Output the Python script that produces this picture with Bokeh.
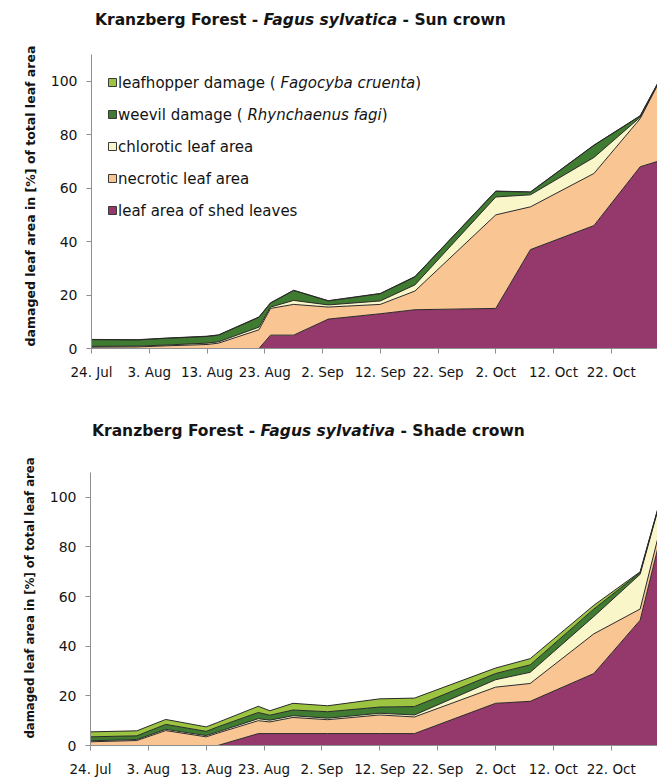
from bokeh.plotting import figure
from bokeh.layouts import column, row
from bokeh.models import ColumnDataSource, FixedTicker, Range1d, Label, BoxAnnotation, Div
from bokeh.embed import file_html
from bokeh.resources import INLINE

# Sampling dates, as days after 24 July
days = [0, 8, 13, 20, 22, 29, 31, 35, 41, 50, 56, 70, 76, 87, 95, 98]

tick_days = [0, 10, 20, 30, 40, 50, 60, 70, 80, 90]
tick_labels = ["24. Jul", "3. Aug", "13. Aug", "23. Aug", "2. Sep",
               "12. Sep", "22. Sep", "2. Oct", "12. Oct", "22. Oct"]
y_ticks = [0, 20, 40, 60, 80, 100]

categories = ["shed", "necrotic", "chlorotic", "weevil", "leafhopper"]
colors = ["#95386b", "#f9c593", "#f9f6c9", "#3f7b30", "#9cc440"]

# Sun crown: damaged leaf area per category, % of total leaf area
sun_shed = [0, 0, 0, 0, 0, 0, 5, 5, 11, 13, 14.5, 15, 37, 46, 68, 70]
sun_necrotic = [0.5, 0.6, 1, 1.5, 2, 7, 10, 11.5, 4.5, 3.5, 7, 35, 16, 19.5, 18, 28.5]
sun_chlorotic = [0.3, 0.3, 0.3, 0.5, 0.5, 1, 0.5, 1.5, 0.8, 1.3, 2.3, 6.7, 4.5, 6, 0.5, 0.3]
sun_weevil = [2.5, 2.3, 2.5, 2.5, 2.5, 3.7, 1.5, 3.7, 1.5, 2.7, 3, 2.1, 1, 4.5, 0.5, 0.2]
sun_leafhopper = [0.1, 0.1, 0.1, 0.1, 0.1, 0.1, 0.1, 0.1, 0.1, 0.1, 0.1, 0.1, 0.1, 0.1, 0.1, 0.1]

# Shade crown
shade_shed = [0, 0, 0, 0, 0, 4.8, 4.8, 4.8, 4.8, 4.8, 4.8, 17, 17.8, 29, 50.5, 79]
shade_necrotic = [1.5, 2, 6, 3.5, 5, 5.2, 4.7, 6.5, 5.6, 7.5, 6.7, 6.5, 7.2, 16, 4.5, 4]
shade_chlorotic = [0.4, 0.4, 0.5, 0.5, 0.5, 0.8, 0.7, 0.7, 0.6, 0.7, 0.8, 3, 4.5, 7, 14, 11.3]
shade_weevil = [1.6, 1.5, 2, 1.7, 2, 2.5, 2, 2.3, 2.6, 2.5, 3.4, 2.5, 3, 3, 0.7, 0.4]
shade_leafhopper = [2, 2, 2, 1.8, 1.8, 2.5, 1.8, 2.7, 2.4, 3.3, 3.4, 2.2, 2.5, 1.5, 0.3, 0.3]

legend_rows = [
    ("leafhopper damage ( ", "Fagocyba cruenta", ")"),
    ("weevil damage ( ", "Rhynchaenus fagi", ")"),
    ("chlorotic leaf area", "", ""),
    ("necrotic leaf area", "", ""),
    ("leaf area of shed leaves", "", ""),
]
legend_colors = ["#9cc440", "#3f7b30", "#f9f6c9", "#f9c593", "#95386b"]

FONT = "DejaVu Sans"
TEXT = "#141414"
AXIS = "#8f8f8f"
YLABEL = "damaged leaf area in [%] of total leaf area"


def title_div(species, crown, pad_left, pad_top, height):
    html = ('<div style="margin:0;padding-left:%dpx;padding-top:%.1fpx;'
            'font-family:\'DejaVu Sans\';font-size:15.5px;font-weight:bold;'
            'line-height:19px;white-space:nowrap;color:%s">'
            'Kranzberg Forest - <i>%s</i> - %s</div>'
            % (pad_left, pad_top, TEXT, species, crown))
    return Div(text=html, width=657, height=height, margin=0)


def ylabel_div(width, height, cx, cy, size):
    html = ('<div style="position:relative;width:%dpx;height:%dpx;margin:0">'
            '<div style="position:absolute;left:%dpx;top:%dpx;'
            'transform:translate(-50%%,-50%%) rotate(-90deg);white-space:nowrap;'
            'font-family:\'DejaVu Sans\';font-size:%s;font-weight:bold;'
            'line-height:1;color:%s">%s</div></div>'
            % (width, height, cx, cy, size, TEXT, YLABEL))
    return Div(text=html, width=width, height=height, margin=0)


def make_panel(layers, width, height, left, top, bottom):
    p = figure(width=width, height=height,
               x_range=Range1d(0, 98), y_range=Range1d(0, 110),
               output_backend="svg", toolbar_location=None,
               min_border_left=left, min_border_right=0,
               min_border_top=top, min_border_bottom=bottom)
    p.outline_line_color = None
    p.grid.visible = False
    p.background_fill_color = "white"
    p.border_fill_color = "white"

    data = {"day": days}
    for name, vals in zip(categories, layers):
        data[name] = vals
    src = ColumnDataSource(data)

    p.varea_stack(stackers=categories, x="day", color=colors, source=src)
    p.vline_stack(stackers=categories, x="day", line_color="#2a2a2a",
                  line_width=1, source=src)

    for ax in (p.xaxis, p.yaxis):
        ax.axis_line_color = AXIS
        ax.major_tick_line_color = AXIS
        ax.minor_tick_line_color = None
        ax.major_tick_in = 0
        ax.major_tick_out = 5
        ax.major_label_text_font = FONT
        ax.major_label_text_color = TEXT

    p.xaxis.ticker = FixedTicker(ticks=tick_days)
    p.xaxis.major_label_overrides = dict(zip(tick_days, tick_labels))
    p.xaxis.major_label_text_font_size = "13.5px"
    p.xaxis.major_label_standoff = 10

    p.yaxis.ticker = FixedTicker(ticks=y_ticks)
    p.yaxis.major_label_text_font_size = "14px"
    p.yaxis.major_label_standoff = 9
    return p


# --- sun crown -------------------------------------------------------------
sun = make_panel([sun_shed, sun_necrotic, sun_chlorotic, sun_weevil, sun_leafhopper],
                 612, 350, 46, 14, 42)

# legend in the upper-left corner; screen units are measured from the
# frame's lower-left corner (frame: left 46, bottom 308 within the figure)
FX, FY = 91, 348
row_y = [82, 114, 146, 178, 210]
for (plain, ital, tail), fill, cy in zip(legend_rows, legend_colors, row_y):
    sun.add_layout(BoxAnnotation(left=108 - FX, right=116 - FX,
                                 top=FY - (cy - 4), bottom=FY - (cy + 4),
                                 left_units="screen", right_units="screen",
                                 top_units="screen", bottom_units="screen",
                                 fill_color=fill, fill_alpha=1,
                                 line_color="#3a3a3a", line_width=1, line_alpha=1))
    x0 = 117.5
    sun.add_layout(Label(x=x0 - FX, y=FY - cy, x_units="screen", y_units="screen",
                         text=plain, text_font=FONT, text_font_size="15px",
                         text_color=TEXT, text_align="left", text_baseline="middle"))
    if ital:
        w_plain = 162.4 if plain.startswith("leaf") else 129.4
        w_ital = 134.9 if ital.startswith("Fago") else 134.3
        sun.add_layout(Label(x=x0 + w_plain - FX, y=FY - cy, x_units="screen",
                             y_units="screen", text=ital, text_font=FONT,
                             text_font_size="15px", text_font_style="italic",
                             text_color=TEXT, text_align="left", text_baseline="middle"))
        sun.add_layout(Label(x=x0 + w_plain + w_ital - FX, y=FY - cy, x_units="screen",
                             y_units="screen", text=tail, text_font=FONT,
                             text_font_size="15px", text_color=TEXT,
                             text_align="left", text_baseline="middle"))

# --- shade crown -----------------------------------------------------------
shade = make_panel([shade_shed, shade_necrotic, shade_chlorotic, shade_weevil,
                    shade_leafhopper], 613, 329, 46, 22, 33)

layout = column(
    title_div("Fagus sylvatica", "Sun crown", 95, 11, 40),
    row(ylabel_div(45, 350, 31, 156, "12.5px"), sun, spacing=0),
    title_div("Fagus sylvativa", "Shade crown", 92, 31.5, 60),
    row(ylabel_div(44, 329, 31, 148, "11.7px"), shade, spacing=0),
    spacing=0,
)
open("out.html", "w").write(file_html(layout, INLINE))
